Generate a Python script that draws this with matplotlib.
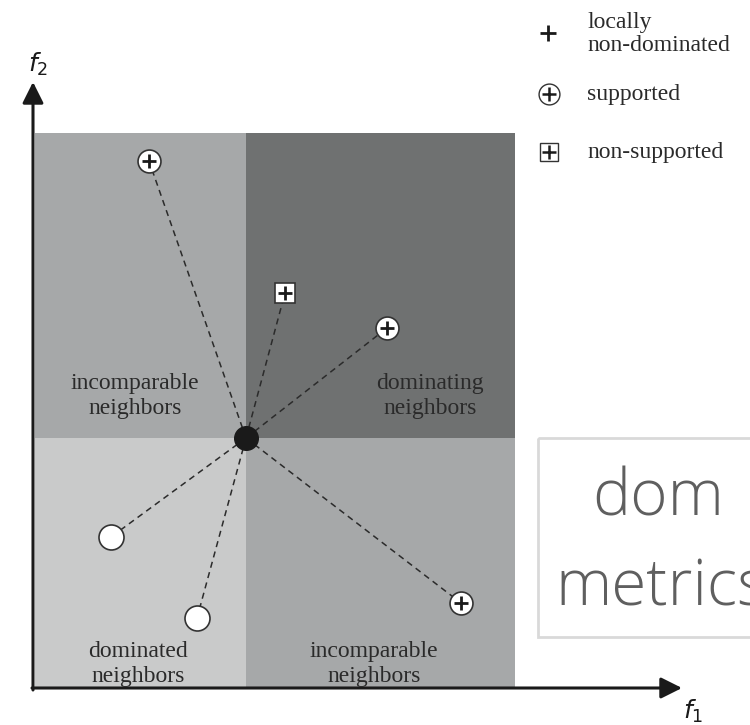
import matplotlib.pyplot as plt
from matplotlib.patches import Rectangle

# sketch of a solution and its neighbours, coords in pixel units of the figure
center_x = [246]
center_y = [438]
supported_x = [149, 387, 461]
supported_y = [161, 328, 603]
nonsupported_x = [285]
nonsupported_y = [293]
dominated_x = [111, 197]
dominated_y = [537, 618]

quadrant_labels = ["incomparable\nneighbors", "dominating\nneighbors",
                   "dominated\nneighbors", "incomparable\nneighbors"]
legend_labels = ["locally\nnon-dominated", "supported", "non-supported"]
box_words = ["dom", "metrics"]

serif = "Liberation Serif"
txtcol = "#2a2a2a"

fig = plt.figure(figsize=(7.5, 7.25), dpi=100)
ax = fig.add_axes([0, 0, 1, 1])
ax.set_xlim(0, 750)
ax.set_ylim(725, 0)
ax.axis("off")

# quadrants
x0, xm, x1 = 35, center_x[0], 515
y0, ym, y1 = 133, center_y[0], 688
ax.add_patch(Rectangle((x0, y0), xm - x0, ym - y0, color="#a6a8a9", lw=0))
ax.add_patch(Rectangle((xm, y0), x1 - xm, ym - y0, color="#6f7171", lw=0))
ax.add_patch(Rectangle((x0, ym), xm - x0, y1 - ym, color="#c9caca", lw=0))
ax.add_patch(Rectangle((xm, ym), x1 - xm, y1 - ym, color="#a6a8a9", lw=0))

# dashed links to the neighbours
allx = supported_x + nonsupported_x + dominated_x
ally = supported_y + nonsupported_y + dominated_y
for x, y in zip(allx, ally):
    ax.plot([center_x[0], x], [center_y[0], y], ls=(0, (4, 3)), color="#2b2b2b", lw=1.1, zorder=2)

# axes arrows
ax.annotate("", xy=(33, 82), xytext=(33, 690),
            arrowprops=dict(arrowstyle="-|>", lw=2.2, color="#1a1a1a", mutation_scale=32, shrinkA=0, shrinkB=0))
ax.annotate("", xy=(682, 688), xytext=(32, 688),
            arrowprops=dict(arrowstyle="-|>", lw=2.2, color="#1a1a1a", mutation_scale=32, shrinkA=0, shrinkB=0))
ax.text(38, 64, "$f_2$", fontsize=18, ha="center", va="center", color="#1a1a1a")
ax.text(693, 711, "$f_1$", fontsize=18, ha="center", va="center", color="#1a1a1a")

# markers
ax.plot(center_x, center_y, "o", ms=17, mfc="#1a1a1a", mec="#1a1a1a", zorder=4)
ax.plot(dominated_x, dominated_y, "o", ms=18, mfc="white", mec="#333333", mew=1.2, zorder=4)
ax.plot(supported_x, supported_y, "o", ms=16.5, mfc="white", mec="#333333", mew=1.2, zorder=4)
ax.plot(supported_x, supported_y, "+", ms=10, mec="#1a1a1a", mew=2, zorder=5)
ax.plot(nonsupported_x, nonsupported_y, "s", ms=14, mfc="white", mec="#333333", mew=1.2, zorder=4)
ax.plot(nonsupported_x, nonsupported_y, "+", ms=10, mec="#1a1a1a", mew=2, zorder=5)

# quadrant labels
label_pos = [(135, 396), (430, 396), (138, 664), (374, 664)]
for (lx, ly), lab in zip(label_pos, quadrant_labels):
    ax.text(lx, ly, lab, ha="center", va="center", family=serif, fontsize=17,
            color=txtcol, linespacing=1.22)

# legend
ax.plot([548], [33], "+", ms=11, mec="#1a1a1a", mew=2)
ax.plot([549], [94], "o", ms=15, mfc="white", mec="#333333", mew=1.0)
ax.plot([549], [94], "+", ms=10, mec="#1a1a1a", mew=1.8)
ax.plot([549], [152], "s", ms=13, mfc="white", mec="#333333", mew=1.0)
ax.plot([549], [152], "+", ms=10, mec="#1a1a1a", mew=1.8)
for ly, lab in zip([34, 94, 152], legend_labels):
    ax.text(587, ly, lab, ha="left", va="center", family=serif, fontsize=17,
            color=txtcol, linespacing=1.12)

# "dom metrics" box
ax.add_patch(Rectangle((538, 438), 240, 199, fill=False, ec="#d9d9d9", lw=2, clip_on=False))
ax.text(592, 515, box_words[0], ha="left", va="baseline", family="Open Sans", fontweight="light",
        fontsize=46, color="#5f5f5f")
ax.text(555, 605, box_words[1], ha="left", va="baseline", family="Open Sans", fontweight="light",
        fontsize=46, color="#5f5f5f")

fig.savefig("out.png", dpi=100)
